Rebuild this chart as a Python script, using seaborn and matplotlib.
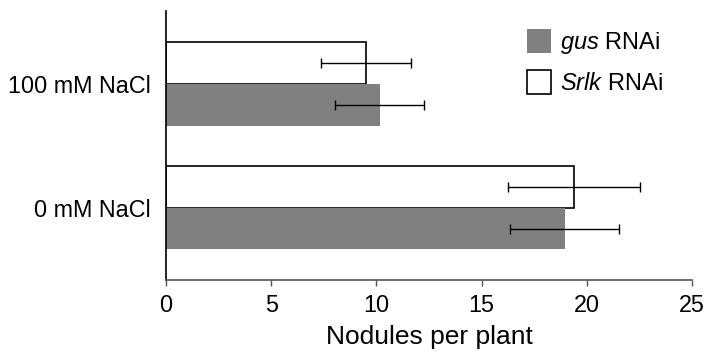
import matplotlib
matplotlib.use("Agg")
import matplotlib.pyplot as plt
import seaborn as sns
import pandas as pd
from matplotlib.patches import Patch

# Data
conditions = ["100 mM NaCl", "0 mM NaCl"]
genotypes = ["Srlk RNAi", "gus RNAi"]
srlk_means = [9.5, 19.4]
srlk_errs = [2.15, 3.15]
gus_means = [10.15, 18.95]
gus_errs = [2.1, 2.6]
x_ticks = [0, 5, 10, 15, 20, 25]
x_label = "Nodules per plant"

df = pd.DataFrame({
    "condition": conditions * 2,
    "genotype": [genotypes[0]] * 2 + [genotypes[1]] * 2,
    "value": srlk_means + gus_means,
    "err": srlk_errs + gus_errs,
})

sns.set_theme(style="white")
plt.rcParams["font.family"] = ["Liberation Sans", "DejaVu Sans"]
plt.rcParams["text.color"] = "black"
plt.rcParams["axes.labelcolor"] = "black"
plt.rcParams["xtick.color"] = "black"
plt.rcParams["ytick.color"] = "black"
plt.rcParams["mathtext.fontset"] = "custom"
plt.rcParams["mathtext.rm"] = "Liberation Sans"
plt.rcParams["mathtext.it"] = "Liberation Sans:italic"

fig = plt.figure(figsize=(7.18, 3.56), dpi=100)
ax = fig.add_axes([166 / 718, 1 - 280 / 356, (692 - 166) / 718, (280 - 11) / 356])

palette = {"Srlk RNAi": "white", "gus RNAi": "#808080"}
sns.barplot(data=df, y="condition", x="value", hue="genotype",
            order=conditions, hue_order=genotypes, palette=palette,
            width=0.674, errorbar=None, orient="h", ax=ax,
            saturation=1, legend=False)

# style bars and add error bars
for cont, g in zip(ax.containers, genotypes):
    sub = df[df["genotype"] == g].set_index("condition").loc[conditions]
    for bar, (_, row) in zip(cont, sub.iterrows()):
        if g == "Srlk RNAi":
            bar.set_edgecolor("black")
            bar.set_linewidth(1.2)
        else:
            bar.set_edgecolor("none")
        yc = bar.get_y() + bar.get_height() / 2
        ax.errorbar(row["value"], yc, xerr=row["err"], fmt="none",
                    ecolor="black", elinewidth=1.0, capsize=3.5,
                    capthick=1.0, zorder=5)

ax.set_xlim(0, 25)
ax.set_ylim(1.584, -0.590)
ax.set_xticks(x_ticks)
ax.set_xticklabels([str(t) for t in x_ticks])
ax.set_xlabel(x_label, fontsize=19, labelpad=6)
ax.set_ylabel("")
ax.tick_params(axis="x", labelsize=16.8, length=4, width=1, color="#555555",
               labelcolor="black", pad=6, direction="out", bottom=True)
ax.tick_params(axis="y", labelsize=16.8, length=0, pad=11, labelcolor="black")
sns.despine(ax=ax, top=True, right=True)
ax.spines["left"].set_color("black")
ax.spines["left"].set_linewidth(1.2)
ax.spines["bottom"].set_color("#555555")
ax.spines["bottom"].set_linewidth(1.2)

handles = [Patch(facecolor="#808080", edgecolor="none"),
           Patch(facecolor="white", edgecolor="black", linewidth=1.2)]
labels_txt = ["$\\it{gus}$ RNAi", "$\\it{Srlk}$ RNAi"]
leg = ax.legend(handles, labels_txt, loc="upper left",
                bbox_to_anchor=(527 / 718, 1 - 29 / 356),
                bbox_transform=fig.transFigure, frameon=False,
                fontsize=17, handlelength=1.0, handleheight=1.2,
                handletextpad=0.4, labelspacing=0.6, borderpad=0,
                borderaxespad=0)

fig.savefig("out.png", dpi=100)
